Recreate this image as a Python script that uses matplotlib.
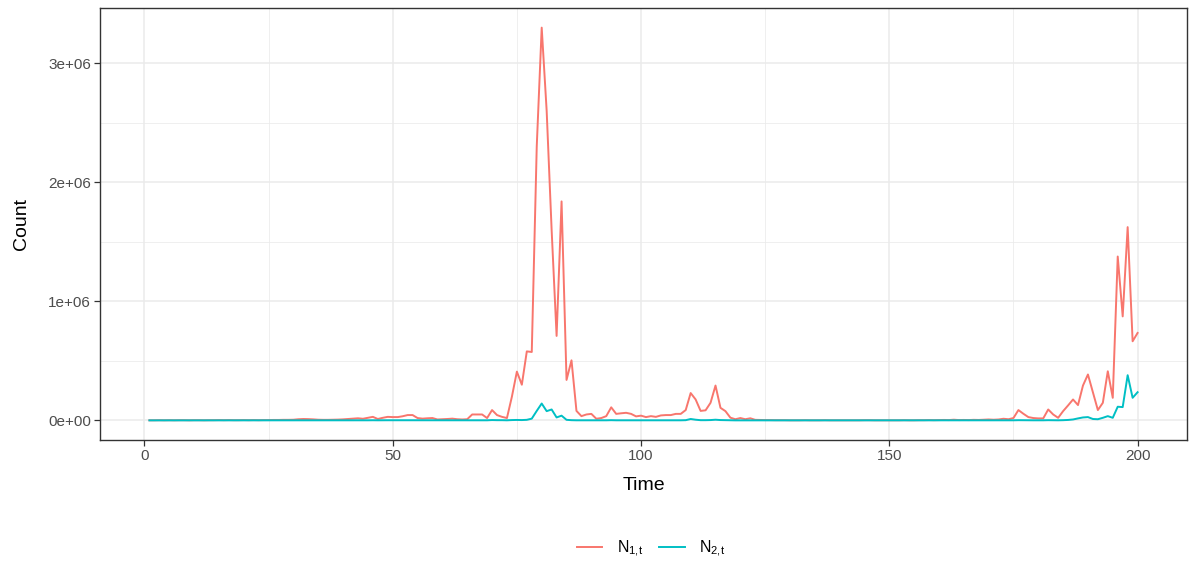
import numpy as np
import matplotlib
matplotlib.use("Agg")
import matplotlib.pyplot as plt
from matplotlib.ticker import FixedLocator
from matplotlib.lines import Line2D

plt.rcParams['font.family'] = ['Liberation Sans', 'DejaVu Sans']
plt.rcParams['mathtext.fontset'] = 'custom'
plt.rcParams['mathtext.rm'] = 'Liberation Sans'
plt.rcParams['mathtext.it'] = 'Liberation Sans'

time = np.arange(1, 201)

# N1,t values (in millions) t = 1..200
n1_millions = [
    0.001, 0.001, 0.002, 0.001, 0.002, 0.001, 0.002, 0.002, 0.001, 0.002,
    0.002, 0.001, 0.002, 0.002, 0.003, 0.002, 0.003, 0.002, 0.002, 0.003,
    0.002, 0.003, 0.002, 0.003, 0.003, 0.004, 0.004, 0.005, 0.005, 0.006,
    0.010, 0.012, 0.011, 0.009, 0.006, 0.005, 0.005, 0.006, 0.007, 0.009,
    0.012, 0.015, 0.018, 0.014, 0.022, 0.030, 0.012, 0.022, 0.030, 0.028,
    0.028, 0.035, 0.045, 0.045, 0.020, 0.015, 0.018, 0.020, 0.008, 0.010,
    0.012, 0.015, 0.010, 0.008, 0.010, 0.050, 0.050, 0.050, 0.020, 0.087,
    0.045, 0.030, 0.020, 0.200, 0.410, 0.300, 0.580, 0.575, 2.300, 3.300,
    2.600, 1.600, 0.710, 1.840, 0.340, 0.505, 0.080, 0.036, 0.050, 0.055,
    0.014, 0.020, 0.036, 0.110, 0.055, 0.060, 0.064, 0.055, 0.034, 0.040,
    0.028, 0.036, 0.030, 0.042, 0.045, 0.045, 0.055, 0.055, 0.087, 0.230,
    0.176, 0.080, 0.085, 0.148, 0.293, 0.106, 0.078, 0.023, 0.010, 0.020,
    0.010, 0.018, 0.005, 0.004, 0.003, 0.003, 0.002, 0.002, 0.002, 0.001,
    0.001, 0.001, 0.002, 0.001, 0.001, 0.001, 0.002, 0.001, 0.001, 0.001,
    0.001, 0.001, 0.001, 0.001, 0.002, 0.002, 0.001, 0.001, 0.001, 0.001,
    0.001, 0.001, 0.002, 0.001, 0.001, 0.002, 0.002, 0.003, 0.002, 0.003,
    0.004, 0.003, 0.006, 0.003, 0.004, 0.003, 0.005, 0.004, 0.006, 0.008,
    0.006, 0.008, 0.014, 0.010, 0.020, 0.087, 0.056, 0.028, 0.020, 0.017,
    0.017, 0.092, 0.050, 0.022, 0.078, 0.126, 0.176, 0.129, 0.293, 0.386,
    0.237, 0.087, 0.148, 0.413, 0.190, 1.377, 0.874, 1.624, 0.665, 0.735,
]

# N2,t values (in millions) t = 1..200
n2_millions = [
    0.0005, 0.0005, 0.0005, 0.0005, 0.0005, 0.0005, 0.0005, 0.0005, 0.0005, 0.0005,
    0.0005, 0.0005, 0.0005, 0.0005, 0.0005, 0.0005, 0.0005, 0.0005, 0.0005, 0.0005,
    0.0005, 0.0005, 0.0005, 0.0005, 0.0005, 0.0005, 0.0005, 0.0005, 0.0005, 0.0010,
    0.0010, 0.0010, 0.0010, 0.0010, 0.0010, 0.0010, 0.0010, 0.0010, 0.0010, 0.0010,
    0.0010, 0.0010, 0.0010, 0.0010, 0.0010, 0.0015, 0.0010, 0.0015, 0.0015, 0.0015,
    0.0015, 0.0015, 0.0020, 0.0020, 0.0015, 0.0010, 0.0010, 0.0010, 0.0010, 0.0010,
    0.0010, 0.0010, 0.0010, 0.0010, 0.0010, 0.0020, 0.0020, 0.0020, 0.0010, 0.0030,
    0.0020, 0.0020, 0.0010, 0.0030, 0.0040, 0.0030, 0.0050, 0.0150, 0.0800, 0.1420,
    0.0780, 0.0920, 0.0250, 0.0400, 0.0050, 0.0020, 0.0010, 0.0010, 0.0010, 0.0010,
    0.0010, 0.0010, 0.0010, 0.0020, 0.0010, 0.0010, 0.0010, 0.0010, 0.0010, 0.0010,
    0.0010, 0.0010, 0.0010, 0.0010, 0.0010, 0.0010, 0.0010, 0.0010, 0.0020, 0.0120,
    0.0060, 0.0020, 0.0020, 0.0030, 0.0060, 0.0030, 0.0020, 0.0010, 0.0005, 0.0005,
    0.0005, 0.0005, 0.0005, 0.0005, 0.0005, 0.0005, 0.0005, 0.0005, 0.0005, 0.0005,
    0.0005, 0.0005, 0.0005, 0.0005, 0.0005, 0.0005, 0.0005, 0.0005, 0.0005, 0.0005,
    0.0005, 0.0005, 0.0005, 0.0005, 0.0005, 0.0005, 0.0005, 0.0005, 0.0005, 0.0005,
    0.0005, 0.0005, 0.0005, 0.0005, 0.0005, 0.0005, 0.0005, 0.0005, 0.0005, 0.0005,
    0.0005, 0.0005, 0.0005, 0.0005, 0.0005, 0.0005, 0.0005, 0.0005, 0.0005, 0.0005,
    0.0005, 0.0005, 0.0005, 0.0005, 0.0010, 0.0020, 0.0015, 0.0010, 0.0010, 0.0010,
    0.0010, 0.0020, 0.0015, 0.0010, 0.0020, 0.0040, 0.0080, 0.0170, 0.0250, 0.0280,
    0.0120, 0.0100, 0.0220, 0.0360, 0.0220, 0.1150, 0.1120, 0.3800, 0.1900, 0.2370,
]

series_labels = [r'$\mathregular{N_{1{,}t}}$', r'$\mathregular{N_{2{,}t}}$']
series_colors = ['#F8766D', '#00BFC4']
x_ticks = [0, 50, 100, 150, 200]
x_minor = [25, 75, 125, 175]
y_ticks = [0, 1e6, 2e6, 3e6]
y_tick_labels = ['0e+00', '1e+06', '2e+06', '3e+06']
y_minor = [0.5e6, 1.5e6, 2.5e6]

n1 = np.array(n1_millions) * 1e6
n2 = np.array(n2_millions) * 1e6

fig = plt.figure(figsize=(11.89, 5.61), dpi=100)
ax = fig.add_axes([100 / 1189, 1 - 440 / 561, 1087 / 1189, 432 / 561])

grid_col = '#EBEBEB'
for v in x_minor:
    ax.axvline(v, color=grid_col, lw=0.55, zorder=0)
for v in y_minor:
    ax.axhline(v, color=grid_col, lw=0.55, zorder=0)
for v in x_ticks:
    ax.axvline(v, color=grid_col, lw=1.1, zorder=0)
for v in y_ticks:
    ax.axhline(v, color=grid_col, lw=1.1, zorder=0)

ax.plot(time, n1, color=series_colors[0], lw=1.4, zorder=3)
ax.plot(time, n2, color=series_colors[1], lw=1.4, zorder=3)

xr = time.max() - time.min()
ax.set_xlim(time.min() - 0.05 * xr, time.max() + 0.05 * xr)
ymax = max(n1.max(), n2.max())
ymin = min(n1.min(), n2.min())
yr = ymax - ymin
ax.set_ylim(ymin - 0.05 * yr, ymax + 0.05 * yr)

ax.xaxis.set_major_locator(FixedLocator(x_ticks))
ax.yaxis.set_major_locator(FixedLocator(y_ticks))
ax.set_yticklabels(y_tick_labels)
ax.tick_params(axis='both', which='major', direction='out', length=4, width=0.9,
               color='#333333', labelcolor='#4D4D4D', labelsize=11, pad=2.5)
for s in ax.spines.values():
    s.set_color('#333333')
    s.set_linewidth(1.0)

ax.set_xlabel('Time', fontsize=14, color='black', labelpad=10)
ax.set_ylabel('Count', fontsize=14, color='black', labelpad=13)

handles = [Line2D([0], [0], color=c, lw=1.4) for c in series_colors]
fig.legend(handles, series_labels, loc='center', bbox_to_anchor=(651 / 1189, 1 - 549 / 561),
           ncol=2, frameon=False, fontsize=11.5, handlelength=1.6, handletextpad=0.9,
           columnspacing=1.0)

fig.savefig('out.png', dpi=100)
